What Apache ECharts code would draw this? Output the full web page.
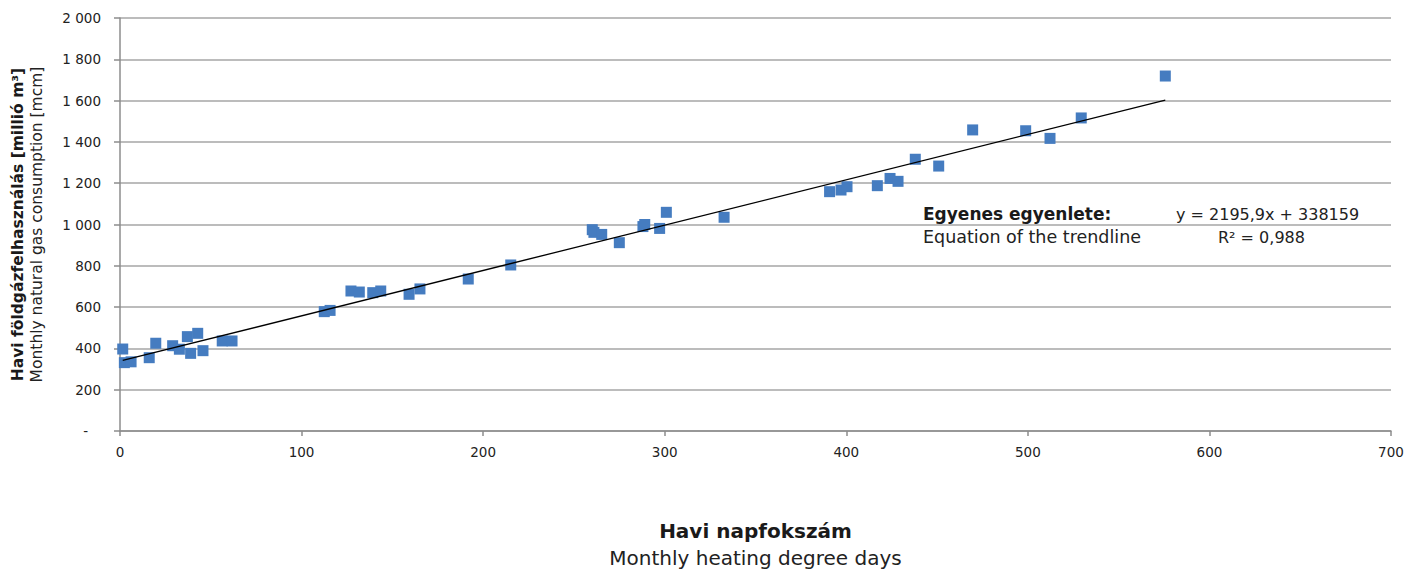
<!DOCTYPE html>
<html>
<head>
<meta charset="utf-8">
<script src="https://cdn.jsdelivr.net/npm/echarts@6/dist/echarts.min.js"></script>
<style>
html,body{margin:0;padding:0;background:#fff;}
#chart{width:1410px;height:569px;}
</style>
</head>
<body>
<div id="chart"></div>
<script>
// Monthly heating degree days (x) and monthly natural gas consumption in mcm (y)
const hdd = [1.5, 2.4, 6.1, 16.1, 19.7, 29.0, 32.7, 37.1, 38.9, 42.8, 45.7, 56.3, 61.7,
  112.5, 115.7, 127.2, 131.8, 139.2, 143.6, 159.2, 165.2, 191.8, 215.2,
  260.1, 261.0, 265.3, 275.0, 288.0, 289.0, 297.2, 300.9, 332.7,
  390.8, 397.1, 400.4, 417.1, 424.1, 428.5, 438.0, 450.9, 469.6,
  498.8, 512.2, 529.4, 575.7];
const gas = [397, 331, 335, 355, 425, 413, 396, 457, 376, 473, 389, 436, 436,
  578, 584, 678, 673, 670, 678, 662, 688, 736, 804,
  975, 962, 952, 912, 990, 1000, 981, 1059, 1035,
  1159, 1167, 1183, 1188, 1223, 1209, 1316, 1283, 1458,
  1454, 1417, 1516, 1719];

// Trendline from the equation label: y = 2195,9x + 338159 (m3) -> mcm
const trendSlope = 2195.9 / 1000;
const trendIntercept = 338159 / 1000;
const trendLabelBold = 'Egyenes egyenlete:';
const trendLabelEn = 'Equation of the trendline';
const trendEq = 'y = 2195,9x + 338159';
const trendR2 = 'R² = 0,988';

const xTitleHu = 'Havi napfokszám';
const xTitleEn = 'Monthly heating degree days';
const yTitleHu = 'Havi földgázfelhasználás [millió m³]';
const yTitleEn = 'Monthly natural gas consumption [mcm]';

const points = hdd.map((x, i) => [x, gas[i]]);
const xMin = Math.min(...hdd), xMax = Math.max(...hdd);
const trend = [[xMin, trendSlope * xMin + trendIntercept], [xMax, trendSlope * xMax + trendIntercept]];

const FONT = 'DejaVu Sans';
const chart = echarts.init(document.getElementById('chart'), null, {renderer: 'svg'});

function fmtY(v) {
  if (v === 0) return '-   ';
  const s = String(v);
  return s.length > 3 ? s.slice(0, s.length - 3) + ' ' + s.slice(-3) : s;
}

chart.setOption({
  animation: false,
  backgroundColor: '#fff',
  textStyle: {fontFamily: FONT},
  grid: {left: 120, right: 19, top: 18, bottom: 138, containLabel: false, outerBoundsMode: 'none'},
  xAxis: {
    type: 'value', min: 0, max: 700, interval: 100,
    axisLine: {show: true, lineStyle: {color: '#8c8c8c', width: 1.5}},
    axisTick: {show: true, length: 5, lineStyle: {color: '#8c8c8c', width: 1.5}},
    splitLine: {show: false},
    axisLabel: {color: '#222', fontSize: 13.5, margin: 14, fontFamily: FONT},
    name: '{b|' + xTitleHu + '}\n{n|' + xTitleEn + '}',
    nameLocation: 'middle', nameGap: 86,
    nameTextStyle: {
      rich: {
        b: {fontSize: 20, fontWeight: 'bold', color: '#1a1a1a', fontFamily: FONT, lineHeight: 27, align: 'center'},
        n: {fontSize: 20, color: '#222', fontFamily: FONT, lineHeight: 27, align: 'center'}
      }
    }
  },
  yAxis: {
    type: 'value', min: 0, max: 2000, interval: 200,
    axisLine: {show: true, lineStyle: {color: '#8c8c8c', width: 1.5}},
    axisTick: {show: true, length: 6, lineStyle: {color: '#8c8c8c', width: 1.5}},
    splitLine: {show: true, lineStyle: {color: '#a6a6a6', width: 1.5}},
    axisLabel: {color: '#222', fontSize: 13.5, margin: 19, formatter: fmtY, fontFamily: FONT},
    name: '{b|' + yTitleHu + '}\n{n|' + yTitleEn + '}',
    nameLocation: 'middle', nameRotate: 90, nameGap: 74,
    nameTextStyle: {
      rich: {
        b: {fontSize: 15.5, fontWeight: 'bold', color: '#1a1a1a', fontFamily: FONT, lineHeight: 19, align: 'center'},
        n: {fontSize: 15.5, color: '#222', fontFamily: FONT, lineHeight: 19, align: 'center'}
      }
    }
  },
  series: [
    {
      type: 'scatter', data: points, symbol: 'rect', symbolSize: 11,
      itemStyle: {color: '#457cc0', opacity: 1}, z: 3
    },
    {
      type: 'line', data: trend, symbol: 'none', silent: true,
      lineStyle: {color: '#000', width: 1.3}, z: 4
    }
  ],
  graphic: [
    {
      type: 'group', left: 907, top: 198, z: 10,
      children: [
        {type: 'rect', shape: {x: 0, y: 0, width: 459, height: 56}, style: {fill: '#fff'}},
        {type: 'text', x: 16, y: 16, style: {text: trendLabelBold, font: 'bold 17px "' + FONT + '"', fill: '#1a1a1a', verticalAlign: 'middle'}},
        {type: 'text', x: 16, y: 39, style: {text: trendLabelEn, font: '17.5px "' + FONT + '"', fill: '#222', verticalAlign: 'middle'}},
        {type: 'text', x: 269, y: 16, style: {text: trendEq, font: '16px "' + FONT + '"', fill: '#222', verticalAlign: 'middle'}},
        {type: 'text', x: 311, y: 39, style: {text: trendR2, font: '16px "' + FONT + '"', fill: '#222', verticalAlign: 'middle'}}
      ]
    }
  ]
});
</script>
</body>
</html>
